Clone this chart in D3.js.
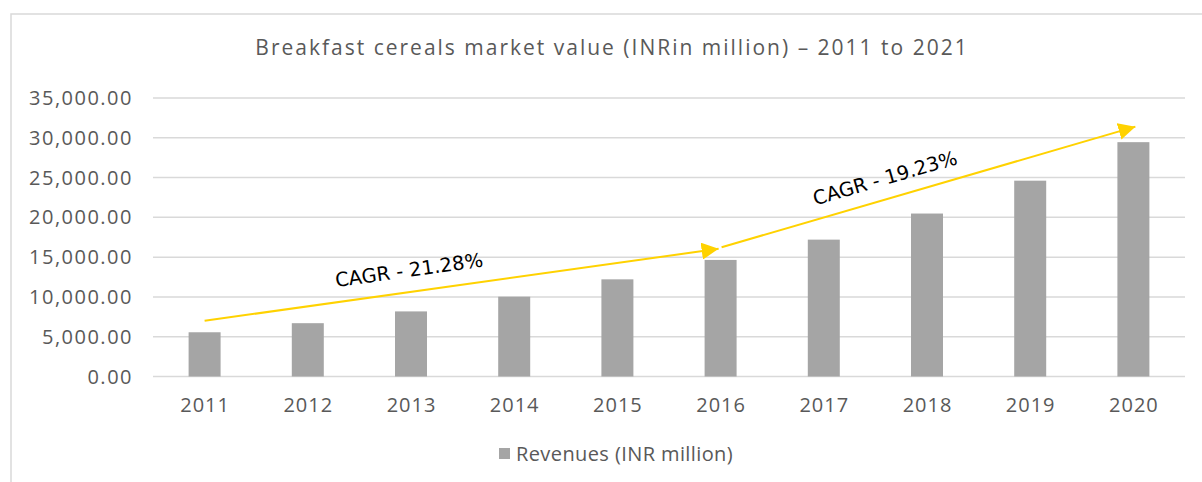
<!DOCTYPE html>
<meta charset="utf-8">
<style>
  body { margin:0; background:#fff; }
  text { font-family:"Open Sans", sans-serif; fill:#595959; }
</style>
<svg width="1202" height="482"></svg>
<script src="https://cdn.jsdelivr.net/npm/d3@7"></script>
<script>

var years = ["2011","2012","2013","2014","2015","2016","2017","2018","2019","2020"];
var revenues = [5560, 6700, 8180, 10030, 12210, 14650, 17200, 20480, 24610, 29450];
var yTicks = [0, 5000, 10000, 15000, 20000, 25000, 30000, 35000];
// CAGR arrows: [from year, value] -> [to year, value]
var cagrLabels = ["CAGR - 21.28%", "CAGR - 19.23%"];
var cagrFrom = [["2011", 7000], ["2016", 16250]];
var cagrTo = [["2016", 16050], ["2020", 31400]];

var svg = d3.select("svg"),
    plotLeft = 153, plotRight = 1185, plotTop = 98, plotBottom = 376.5;

// chart frame (runs off the right/bottom of the picture)
svg.append("rect")
    .attr("x", 11).attr("y", 14)
    .attr("width", 1220).attr("height", 500)
    .attr("fill", "none")
    .attr("stroke", "#d9d9d9")
    .attr("stroke-width", 1.5);

var x = d3.scaleBand()
    .domain(years)
    .range([plotLeft, plotRight])
    .paddingInner(0.69)
    .paddingOuter(0.345);

var y = d3.scaleLinear()
    .domain([0, 35000])
    .range([plotBottom, plotTop]);

var fmt = d3.format(",.2f");

// gridlines
svg.append("g")
  .selectAll("line")
  .data(yTicks)
  .enter().append("line")
    .attr("x1", plotLeft).attr("x2", plotRight)
    .attr("y1", function(d) { return y(d); })
    .attr("y2", function(d) { return y(d); })
    .attr("stroke", "#d9d9d9")
    .attr("stroke-width", 1.5);

// y labels
svg.append("g")
  .selectAll("text")
  .data(yTicks)
  .enter().append("text")
    .attr("x", 133)
    .attr("y", function(d) { return y(d); })
    .attr("dy", "0.35em")
    .attr("text-anchor", "end")
    .style("font-size", "20px")
    .style("letter-spacing", "1.5px")
    .text(fmt);

// bars
svg.append("g")
  .selectAll("rect")
  .data(revenues)
  .enter().append("rect")
    .attr("x", function(d, i) { return x(years[i]); })
    .attr("y", function(d) { return y(d); })
    .attr("width", x.bandwidth())
    .attr("height", function(d) { return y(0) - y(d); })
    .attr("fill", "#a5a5a5");

// x labels
svg.append("g")
  .selectAll("text")
  .data(years)
  .enter().append("text")
    .attr("x", function(d) { return x(d) + x.bandwidth() / 2 + 0.5; })
    .attr("y", 405)
    .attr("dy", "0.35em")
    .attr("text-anchor", "middle")
    .style("font-size", "20px")
    .style("letter-spacing", "1px")
    .text(function(d) { return d; });

// title
svg.append("text")
    .attr("x", 612)
    .attr("y", 48)
    .attr("dy", "0.35em")
    .attr("text-anchor", "middle")
    .style("font-size", "21px")
    .style("letter-spacing", "2px")
    .text("Breakfast cereals market value (INRin million) \u2013 2011 to 2021");

// legend
svg.append("rect")
    .attr("x", 499).attr("y", 448)
    .attr("width", 11).attr("height", 11)
    .attr("fill", "#a5a5a5");
svg.append("text")
    .attr("x", 516)
    .attr("y", 454)
    .attr("dy", "0.35em")
    .style("font-size", "20px")
    .style("letter-spacing", "0.4px")
    .text("Revenues (INR million)");

// arrows
svg.append("defs").append("marker")
    .attr("id", "head")
    .attr("viewBox", "0 0 10 10")
    .attr("refX", 10).attr("refY", 5)
    .attr("markerWidth", 8.5).attr("markerHeight", 8.5)
    .attr("markerUnits", "strokeWidth")
    .attr("orient", "auto")
  .append("path")
    .attr("d", "M0,0L10,5L0,10z")
    .attr("fill", "#ffd200");

var mid = function(yr) { return x(yr) + x.bandwidth() / 2; };

cagrLabels.forEach(function(label, i) {
  var x1 = mid(cagrFrom[i][0]) + (i == 0 ? 0 : 1),
      y1 = y(cagrFrom[i][1]),
      x2 = mid(cagrTo[i][0]) + (i == 0 ? -2 : 2),
      y2 = y(cagrTo[i][1]);
  svg.append("line")
      .attr("x1", x1).attr("y1", y1)
      .attr("x2", x2).attr("y2", y2)
      .attr("stroke", "#ffd200")
      .attr("stroke-width", 2)
      .attr("marker-end", "url(#head)");

  var ang = Math.atan2(y2 - y1, x2 - x1) * 180 / Math.PI,
      cx = i == 0 ? 409 : 885,
      cy = i == 0 ? 270 : 178;
  svg.append("text")
      .attr("transform", "translate(" + cx + "," + cy + ")rotate(" + ang + ")")
      .attr("text-anchor", "middle")
      .attr("dy", "0.35em")
      .style("font-family", "'DejaVu Sans', sans-serif")
      .style("font-size", "19.5px")
      .style("fill", "#000")
      .text(label);
});

</script>
